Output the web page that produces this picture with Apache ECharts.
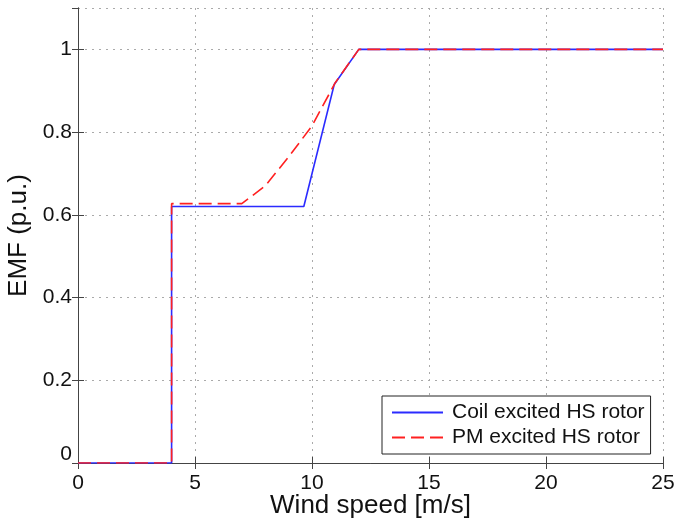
<!DOCTYPE html>
<html>
<head>
<meta charset="utf-8">
<script src="https://cdn.jsdelivr.net/npm/echarts@6/dist/echarts.min.js"></script>
<style>html,body{margin:0;padding:0;background:#fff}#c{width:674px;height:521px}</style>
</head>
<body>
<div id="c"></div>
<script>
var seriesNames = ['Coil excited HS rotor', 'PM excited HS rotor'];
var coilX = [0, 4, 4, 9.65, 10.95, 12, 25];
var coilY = [0, 0, 0.62, 0.62, 0.915, 1, 1];
var pmX = [0, 4, 4, 7, 8, 9, 10, 11, 12, 25];
var pmY = [0, 0, 0.627, 0.627, 0.67, 0.74, 0.815, 0.92, 1, 1];
var xTicks = [0, 5, 10, 15, 20, 25];
var yTicks = [0, 0.2, 0.4, 0.6, 0.8, 1];

function pairs(xs, ys) { return xs.map(function (x, i) { return [x, ys[i]]; }); }
var FONT = "'Liberation Sans', Arial, Helvetica, sans-serif";
var BLUE = '#2b2bff', RED = '#ff2020';
var chart = echarts.init(document.getElementById('c'), null, {renderer: 'canvas'});
var axisLineStyle = {color: '#444', width: 1};
chart.setOption({
  animation: false,
  backgroundColor: '#fff',
  grid: {left: 78, right: 11, top: 8, bottom: 58, containLabel: false, outerBoundsMode: 'none'},
  legend: {
    orient: 'vertical', left: 382, top: 396,
    borderColor: '#222', borderWidth: 1, backgroundColor: '#fff',
    padding: [6, 6, 6, 10], itemGap: 4, itemWidth: 51, itemHeight: 2,
    textStyle: {fontFamily: FONT, fontSize: 21, color: '#111', lineHeight: 21, padding: [0, 0, 0, 4]},
    data: [
      {name: seriesNames[0], icon: 'path://M0,0H51V2H0Z', itemStyle: {color: BLUE}},
      {name: seriesNames[1], icon: 'path://M0,0H13V2H0Z M19,0H32V2H19Z M38,0H51V2H38Z', itemStyle: {color: RED}}
    ]
  },
  xAxis: [{
    type: 'value', min: 0, max: 25, interval: 5, position: 'bottom',
    name: 'Wind speed [m/s]', nameLocation: 'middle', nameGap: 30, nameMoveOverlap: false,
    nameTextStyle: {fontFamily: FONT, fontSize: 26, color: '#111', lineHeight: 26},
    axisLine: {show: true, lineStyle: axisLineStyle},
    axisTick: {show: true, inside: true, length: 6, lineStyle: axisLineStyle},
    axisLabel: {fontFamily: FONT, fontSize: 21, color: '#111', margin: 10,
      formatter: function (v) { return xTicks.indexOf(v) >= 0 ? String(v) : ''; }},
    splitLine: {show: true, lineStyle: {color: '#aaa', type: [2, 5], width: 1}}
  }, {
    type: 'value', min: 0, max: 25, interval: 5, position: 'top',
    axisLine: {show: true, lineStyle: axisLineStyle},
    axisTick: {show: true, inside: true, length: 6, lineStyle: axisLineStyle},
    axisLabel: {show: false}, splitLine: {show: false}
  }],
  yAxis: [{
    type: 'value', min: 0, max: 1.1, interval: 0.2, position: 'left',
    name: 'EMF (p.u.)', nameLocation: 'middle', nameGap: 46, nameMoveOverlap: false,
    nameTextStyle: {fontFamily: FONT, fontSize: 26, color: '#111'},
    axisLine: {show: true, lineStyle: axisLineStyle},
    axisTick: {show: true, inside: true, length: 6, lineStyle: axisLineStyle},
    axisLabel: {fontFamily: FONT, fontSize: 21, color: '#111', margin: 6, showMaxLabel: false,
      formatter: function (v) {
        var r = Math.round(v * 10) / 10;
        if (r === 0) return '{z|0}';
        return yTicks.indexOf(r) >= 0 ? String(r) : '';
      },
      rich: {z: {fontFamily: FONT, fontSize: 21, color: '#111', padding: [0, 0, 18, 0]}}},
    splitLine: {show: true, lineStyle: {color: '#aaa', type: [2, 5], width: 1}}
  }, {
    type: 'value', min: 0, max: 1.1, interval: 0.2, position: 'right',
    axisLine: {show: true, lineStyle: axisLineStyle},
    axisTick: {show: true, inside: true, length: 6, lineStyle: axisLineStyle},
    axisLabel: {show: false}, splitLine: {show: false}
  }],
  series: [{
    name: seriesNames[0], type: 'line', xAxisIndex: 0, yAxisIndex: 0,
    data: pairs(coilX, coilY), symbol: 'none', showSymbol: false,
    lineStyle: {color: BLUE, width: 1.6, type: 'solid'},
    itemStyle: {color: BLUE}, z: 2
  }, {
    name: seriesNames[1], type: 'line', xAxisIndex: 0, yAxisIndex: 0,
    data: pairs(pmX, pmY), symbol: 'none', showSymbol: false,
    lineStyle: {color: RED, width: 1.6, type: [13, 6]},
    itemStyle: {color: RED}, z: 3
  }]
});
</script>
</body>
</html>
